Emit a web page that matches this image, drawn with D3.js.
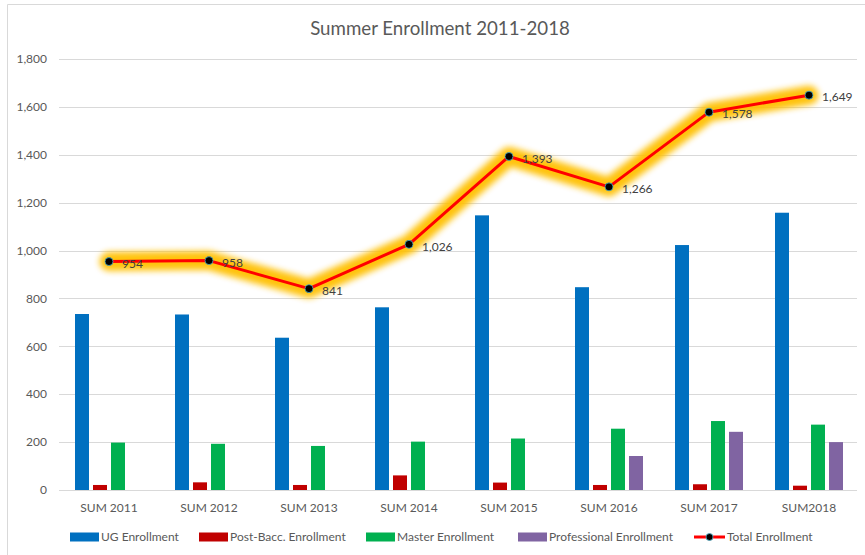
<!DOCTYPE html>
<html>
<head>
<meta charset="utf-8">
<script src="https://cdn.jsdelivr.net/npm/d3@7"></script>
<style>
	body { margin: 0; background: #fff; }
	svg { display: block; font-family: Lato, 'Open Sans', sans-serif; }
	.grid line { stroke: #d9d9d9; stroke-width: 1; }
	.tick-label { fill: #595959; font-size: 12px; }
	.data-label { fill: #404040; font-size: 12px; }
	.legend text { fill: #595959; font-size: 12px; }
</style>
</head>
<body>
<div id="chart"></div>
<script>
const years = ['SUM 2011', 'SUM 2012', 'SUM 2013', 'SUM 2014', 'SUM 2015', 'SUM 2016', 'SUM 2017', 'SUM2018'];
const ugEnrollment = [735, 733, 636, 763, 1147, 847, 1023, 1158];
const postBaccEnrollment = [21, 32, 21, 61, 31, 21, 24, 18];
const masterEnrollment = [198, 193, 184, 202, 215, 256, 288, 273];
const professionalEnrollment = [0, 0, 0, 0, 0, 142, 243, 200];
const totalEnrollment = [954, 958, 841, 1026, 1393, 1266, 1578, 1649];
const yTicks = [0, 200, 400, 600, 800, 1000, 1200, 1400, 1600, 1800];

const barSeries = [
	{ key: 'ug', name: 'UG Enrollment', color: '#0070c0', values: ugEnrollment },
	{ key: 'pb', name: 'Post-Bacc. Enrollment', color: '#c00000', values: postBaccEnrollment },
	{ key: 'ms', name: 'Master Enrollment', color: '#00b050', values: masterEnrollment },
	{ key: 'pr', name: 'Professional Enrollment', color: '#8064a2', values: professionalEnrollment }
];

const W = 865;
const H = 555;
const plot = { left: 59, right: 859, top: 59, bottom: 490 };
const GROUP_W = 68;

const fmt = d3.format(',');

const $svg = d3.select('#chart').append('svg').attr('width', W).attr('height', H);

// glow filter for the total line
const $defs = $svg.append('defs');
$defs.append('filter')
	.attr('id', 'glow')
	.attr('x', '-10%').attr('y', '-30%')
	.attr('width', '120%').attr('height', '160%')
	.append('feGaussianBlur')
	.attr('stdDeviation', 3.2);

// chart frame (cropped on right and bottom)
$svg.append('path')
	.attr('d', `M7.5,${H}V4.5H${W}`)
	.attr('fill', 'none')
	.attr('stroke', '#d9d9d9');

$svg.append('text')
	.attr('x', 440)
	.attr('y', 35)
	.attr('text-anchor', 'middle')
	.attr('fill', '#595959')
	.style('font-size', '18.7px')
	.text('Summer Enrollment 2011-2018');

const x = d3.scaleBand().domain(years).range([plot.left, plot.right]);
const x1 = d3.scaleBand()
	.domain(barSeries.map(d => d.key))
	.range([0, GROUP_W])
	.paddingInner(4 / 18);
const y = d3.scaleLinear().domain([0, 1800]).range([plot.bottom, plot.top]);

// gridlines
$svg.append('g')
	.attr('class', 'grid')
	.selectAll('line')
	.data(yTicks)
	.join('line')
	.attr('x1', plot.left)
	.attr('x2', plot.right - 2)
	.attr('y1', d => Math.round(y(d)) + 0.5)
	.attr('y2', d => Math.round(y(d)) + 0.5);

// y axis labels
$svg.append('g')
	.selectAll('text')
	.data(yTicks)
	.join('text')
	.attr('class', 'tick-label')
	.attr('x', 47)
	.attr('y', d => y(d))
	.attr('dy', '0.35em')
	.attr('text-anchor', 'end')
	.text(d => fmt(d));

// x axis labels
$svg.append('g')
	.selectAll('text')
	.data(years)
	.join('text')
	.attr('class', 'tick-label')
	.attr('x', d => x(d) + x.bandwidth() / 2)
	.attr('y', 508)
	.attr('dy', '0.35em')
	.attr('text-anchor', 'middle')
	.text(d => d);

// bars
const $groups = $svg.append('g')
	.selectAll('g')
	.data(years)
	.join('g')
	.attr('transform', d => `translate(${x(d) + (x.bandwidth() - GROUP_W) / 2},0)`);

$groups.selectAll('rect')
	.data((d, i) => barSeries.map(s => ({ key: s.key, color: s.color, value: s.values[i] })))
	.join('rect')
	.attr('x', d => x1(d.key))
	.attr('width', x1.bandwidth())
	.attr('y', d => y(d.value))
	.attr('height', d => plot.bottom - y(d.value))
	.attr('fill', d => d.color);

// total line
const pts = years.map((d, i) => [x(d) + x.bandwidth() / 2, y(totalEnrollment[i])]);
const line = d3.line();

$svg.append('path')
	.attr('d', line(pts))
	.attr('fill', 'none')
	.attr('stroke', '#ffc000')
	.attr('stroke-width', 19)
	.attr('stroke-linejoin', 'round')
	.attr('stroke-linecap', 'round')
	.attr('opacity', 0.95)
	.attr('filter', 'url(#glow)');

$svg.append('path')
	.attr('d', line(pts))
	.attr('fill', 'none')
	.attr('stroke', '#ff0000')
	.attr('stroke-width', 3)
	.attr('stroke-linejoin', 'round');

$svg.append('g')
	.selectAll('circle')
	.data(pts)
	.join('circle')
	.attr('cx', d => d[0])
	.attr('cy', d => d[1])
	.attr('r', 4)
	.attr('fill', '#000')
	.attr('stroke', '#4bacc6')
	.attr('stroke-width', 0.8);

$svg.append('g')
	.selectAll('text')
	.data(pts)
	.join('text')
	.attr('class', 'data-label')
	.attr('x', d => d[0] + 13)
	.attr('y', d => d[1] + 2)
	.attr('dy', '0.35em')
	.text((d, i) => fmt(totalEnrollment[i]));

// legend
const legendItems = barSeries.map(s => ({ name: s.name, color: s.color, type: 'rect' }))
	.concat([{ name: 'Total Enrollment', color: '#ff0000', type: 'line' }]);
const legendX = [70, 199, 366, 518, 694];

const $leg = $svg.append('g')
	.attr('class', 'legend')
	.selectAll('g')
	.data(legendItems)
	.join('g')
	.attr('transform', (d, i) => `translate(${legendX[i]},537)`);

$leg.filter(d => d.type === 'rect')
	.append('rect')
	.attr('x', 0)
	.attr('y', -4.5)
	.attr('width', 29)
	.attr('height', 9)
	.attr('fill', d => d.color);

const $lineKey = $leg.filter(d => d.type === 'line');
$lineKey.append('line')
	.attr('x1', 0).attr('x2', 31)
	.attr('y1', 0).attr('y2', 0)
	.attr('stroke', '#ff0000')
	.attr('stroke-width', 3);
$lineKey.append('circle')
	.attr('cx', 15.5)
	.attr('cy', 0)
	.attr('r', 3.5)
	.attr('fill', '#000')
	.attr('stroke', '#4bacc6')
	.attr('stroke-width', 0.8);

$leg.append('text')
	.attr('x', d => (d.type === 'rect' ? 31 : 33))
	.attr('y', 0)
	.attr('dy', '0.35em')
	.text(d => d.name);
</script>
</body>
</html>
